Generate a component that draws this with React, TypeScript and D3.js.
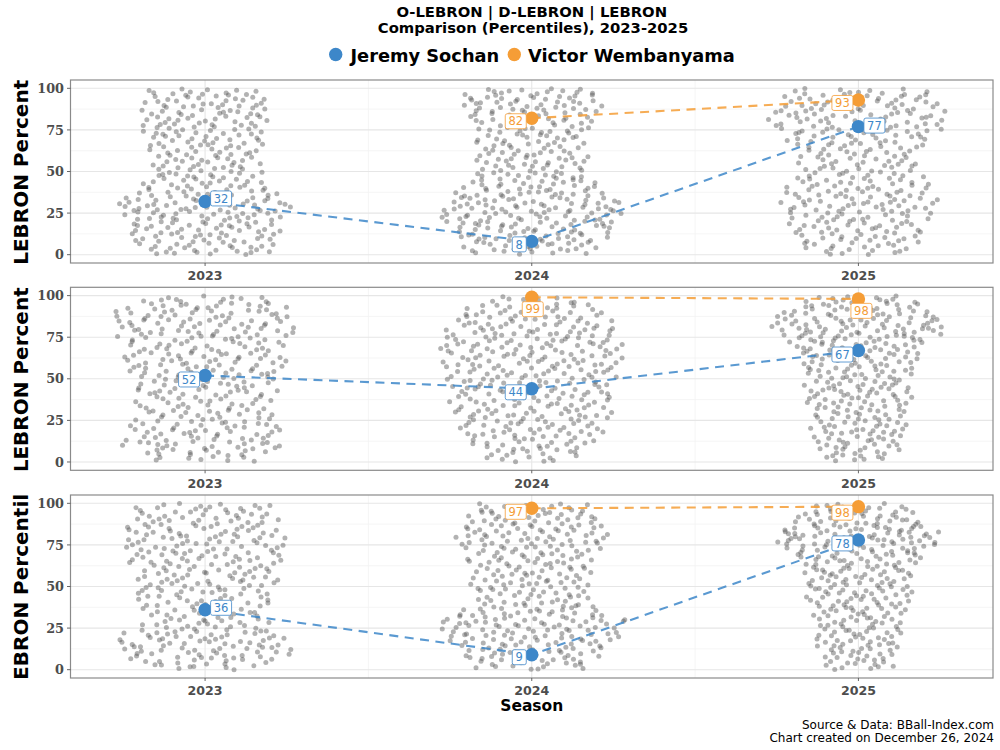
import React, { useMemo } from "react";
import * as d3 from "d3";

// ---------------- DATA ----------------
const seasons = ["2023", "2024", "2025"];
const panelTitles = ["O-LEBRON Percentile", "D-LEBRON Percentile", "LEBRON Percentile"];
const players = ["Jeremy Sochan", "Victor Wembanyama"];
const playerColors = ["#3d87c9", "#f59d36"];

const sochanOLebron = [32, 8, 77];
const sochanDLebron = [52, 44, 67];
const sochanLebron = [36, 9, 78];
const wembyOLebron: (number | null)[] = [null, 82, 93];
const wembyDLebron: (number | null)[] = [null, 99, 98];
const wembyLebron: (number | null)[] = [null, 97, 98];

const yTicks = [0, 25, 50, 75, 100];
const yMinorTicks = [12.5, 37.5, 62.5, 87.5];

// league distribution (gray cloud): players per season and envelope half-width
// (in season units) at percentile levels
const leaguePlayerCounts = [340, 360, 330];
const envelopeLevels = [0, 10, 20, 30, 40, 50, 60, 70, 80, 90, 100];
const oLebronEnv2023 = [0.208, 0.23, 0.25, 0.29, 0.2, 0.184, 0.178, 0.19, 0.205, 0.202, 0.19];
const oLebronEnv2024 = [0.2, 0.24, 0.285, 0.29, 0.224, 0.178, 0.178, 0.178, 0.19, 0.23, 0.2];
const oLebronEnv2025 = [0.147, 0.214, 0.22, 0.254, 0.239, 0.193, 0.193, 0.23, 0.29, 0.27, 0.214];
const dLebronEnv2023 = [0.153, 0.263, 0.245, 0.22, 0.227, 0.236, 0.263, 0.263, 0.29, 0.29, 0.193];
const dLebronEnv2024 = [0.129, 0.19, 0.236, 0.26, 0.26, 0.27, 0.285, 0.3, 0.276, 0.23, 0.122];
const dLebronEnv2025 = [0.086, 0.144, 0.153, 0.153, 0.178, 0.168, 0.178, 0.214, 0.285, 0.245, 0.141];
const lebronEnv2023 = [0.144, 0.282, 0.279, 0.19, 0.208, 0.233, 0.224, 0.26, 0.26, 0.233, 0.22];
const lebronEnv2024 = [0.175, 0.233, 0.276, 0.297, 0.178, 0.193, 0.193, 0.211, 0.245, 0.22, 0.184];
const lebronEnv2025 = [0.107, 0.126, 0.141, 0.144, 0.159, 0.178, 0.175, 0.205, 0.29, 0.2, 0.147];

// ---------------- LAYOUT / STYLE ----------------
type Place = [string, number] | null;
const labelPlacement: Place[][][] = [
  [[["r", -3], ["l", 3], ["r", -1]], [null, ["l", 3], ["l", 3]]],
  [[["l", 4], ["l", 3.5], ["l", 4]], [null, ["b", 1], ["b", 3]]],
  [[["r", -2], ["l", 2.5], ["l", 3.5]], [null, ["l", 3.5], ["l", 6]]],
];

const W = 1000;
const H = 750;
const panelLeft = 70.5;
const panelRight = 993;
const panelTops = [80, 287.3, 495];
const panelH = 183;

function vdc(n: number, b: number) {
  let v = 0;
  let denom = 1;
  while (n > 0) {
    denom *= b;
    v += (n % b) / denom;
    n = Math.floor(n / b);
  }
  return v;
}

export default function App() {
  const panels = [
    { title: panelTitles[0], series: [sochanOLebron, wembyOLebron], env: [oLebronEnv2023, oLebronEnv2024, oLebronEnv2025] },
    { title: panelTitles[1], series: [sochanDLebron, wembyDLebron], env: [dLebronEnv2023, dLebronEnv2024, dLebronEnv2025] },
    { title: panelTitles[2], series: [sochanLebron, wembyLebron], env: [lebronEnv2023, lebronEnv2024, lebronEnv2025] },
  ];

  const x = d3.scaleLinear().domain([-0.412, 2.412]).range([panelLeft, panelRight]);

  // Halton layout inside the envelope
  const clouds = useMemo(
    () =>
      panels.map((p, pi) =>
        p.env.map((env, si) => {
          const hw = d3.scaleLinear().domain(envelopeLevels).range(env).clamp(true);
          const grid = d3.range(0, 100.001, 0.5);
          const cum: number[] = [0];
          for (let k = 1; k < grid.length; k++) cum.push(cum[k - 1] + (hw(grid[k]) + hw(grid[k - 1])) / 2);
          const total = cum[cum.length - 1];
          const inv = d3.scaleLinear().domain(cum.map((c) => c / total)).range(grid).clamp(true);
          const n = leaguePlayerCounts[si];
          const pts: { s: number; v: number }[] = [];
          const off = 20 + pi * 1013 + si * 347;
          for (let i = 0; i < n; i++) {
            const v = inv(vdc(i + off, 3));
            const dx = (2 * vdc(i + off, 2) - 1) * hw(v) * 0.97;
            pts.push({ s: si + dx, v });
          }
          return pts;
        })
      ),
    []
  );

  const sansB = "'DejaVu Sans', sans-serif";

  return (
    <svg width={W} height={H} viewBox={`0 0 ${W} ${H}`} style={{ display: "block", background: "#fff", position: "absolute", left: 0, top: 0 }}>
      <defs>
        {panelTops.map((t, i) => (
          <clipPath id={`ytitle-clip-${i}`} key={`c${i}`}>
            <rect x={0} y={t} width={panelLeft} height={panelH} />
          </clipPath>
        ))}
        {panelTops.map((t, i) => (
          <clipPath id={`panel-clip-${i}`} key={`p${i}`}>
            <rect x={panelLeft} y={t} width={panelRight - panelLeft} height={panelH} />
          </clipPath>
        ))}
      </defs>

      {/* Title */}
      <text x={531.75} y={16.5} textAnchor="middle" fontFamily={sansB} fontWeight="bold" fontSize={14.8} fill="#000">
        O-LEBRON | D-LEBRON | LEBRON
      </text>
      <text x={533} y={33} textAnchor="middle" fontFamily={sansB} fontWeight="bold" fontSize={14.8} fill="#000">
        Comparison (Percentiles), 2023-2025
      </text>

      {/* Legend */}
      <circle cx={335.7} cy={54.5} r={6.7} fill={playerColors[0]} />
      <text x={350.5} y={62} fontFamily={sansB} fontWeight="bold" fontSize={17.8} fill="#000">
        {players[0]}
      </text>
      <circle cx={514.3} cy={54.5} r={6.7} fill={playerColors[1]} />
      <text x={528} y={62} fontFamily={sansB} fontWeight="bold" fontSize={17.8} fill="#000">
        {players[1]}
      </text>

      {panels.map((p, pi) => {
        const top = panelTops[pi];
        const bottom = top + panelH;
        const y = d3.scaleLinear().domain([-5, 105]).range([bottom, top]);
        return (
          <g key={pi}>
            <rect x={panelLeft} y={top} width={panelRight - panelLeft} height={panelH} fill="#fff" />
            <g clipPath={`url(#panel-clip-${pi})`}>
              {yMinorTicks.map((t) => (
                <line key={`ym${t}`} x1={panelLeft} x2={panelRight} y1={y(t)} y2={y(t)} stroke="#f3f3f3" strokeWidth={0.8} />
              ))}
              {[0.5, 1.5].map((t) => (
                <line key={`xm${t}`} x1={x(t)} x2={x(t)} y1={top} y2={bottom} stroke="#f3f3f3" strokeWidth={0.8} />
              ))}
              {yTicks.map((t) => (
                <line key={`y${t}`} x1={panelLeft} x2={panelRight} y1={y(t)} y2={y(t)} stroke="#e6e6e6" strokeWidth={1.1} />
              ))}
              {seasons.map((s, si) => (
                <line key={`x${s}`} x1={x(si)} x2={x(si)} y1={top} y2={bottom} stroke="#e6e6e6" strokeWidth={1.1} />
              ))}

              {clouds[pi].map((pts, si) => (
                <g key={`cl${si}`}>
                  {pts.map((d, k) => (
                    <circle key={k} cx={x(d.s)} cy={y(d.v)} r={2.5} fill="#555" fillOpacity={0.45} />
                  ))}
                </g>
              ))}

              {p.series.map((vals, ci) => {
                const defined = vals.map((v, si) => ({ v, si })).filter((d) => d.v !== null) as { v: number; si: number }[];
                const line = d3
                  .line<{ v: number; si: number }>()
                  .x((d) => x(d.si))
                  .y((d) => y(d.v));
                return (
                  <path key={`l${ci}`} d={line(defined) || ""} fill="none" stroke={playerColors[ci]} strokeOpacity={0.85} strokeWidth={2.1} strokeDasharray="9,6.5" />
                );
              })}

              {p.series.map((vals, ci) =>
                vals.map((v, si) =>
                  v === null ? null : <circle key={`pt${ci}-${si}`} cx={x(si)} cy={y(v)} r={6.7} fill={playerColors[ci]} />
                )
              )}

              {p.series.map((vals, ci) =>
                vals.map((v, si) => {
                  const pl = labelPlacement[pi][ci][si];
                  if (v === null || !pl) return null;
                  const label = String(v);
                  const bw = label.length * 7 + 7;
                  const bh = 15;
                  const cx = x(si);
                  const cy = y(v);
                  let bx = 0;
                  let by = 0;
                  if (pl[0] === "r") {
                    bx = cx + 5.5;
                    by = cy + pl[1] - bh / 2;
                  } else if (pl[0] === "l") {
                    bx = cx - 5.5 - bw;
                    by = cy + pl[1] - bh / 2;
                  } else {
                    bx = cx + pl[1] - bw / 2;
                    by = cy + 4.4;
                  }
                  return (
                    <g key={`lb${ci}-${si}`}>
                      <rect x={bx} y={by} width={bw} height={bh} rx={2} fill="#fff" stroke={playerColors[ci]} strokeWidth={0.8} />
                      <text x={bx + bw / 2} y={by + bh / 2} dy="0.36em" textAnchor="middle" fontFamily={sansB} fontSize={11.5} fill={playerColors[ci]}>
                        {label}
                      </text>
                    </g>
                  );
                })
              )}
            </g>

            <rect x={panelLeft} y={top} width={panelRight - panelLeft} height={panelH} fill="none" stroke="#8a8a8a" strokeWidth={1.2} />

            {/* y axis */}
            {yTicks.map((t) => (
              <g key={`yt${t}`}>
                <line x1={panelLeft - 3.5} x2={panelLeft} y1={y(t)} y2={y(t)} stroke="#555" strokeWidth={0.9} />
                <text x={panelLeft - 6.5} y={y(t)} dy="0.36em" textAnchor="end" fontFamily="'DejaVu Serif', serif" fontWeight="bold" fontSize={12.8} fill="#4d4d4d">
                  {t}
                </text>
              </g>
            ))}
            {/* x axis */}
            {seasons.map((s, si) => (
              <g key={`xt${s}`}>
                <line x1={x(si)} x2={x(si)} y1={bottom} y2={bottom + 3} stroke="#555" strokeWidth={0.9} />
                <text x={x(si)} y={bottom + 17.3} textAnchor="middle" fontFamily={sansB} fontWeight="bold" fontSize={12.6} fill="#4d4d4d">
                  {s}
                </text>
              </g>
            ))}

            <g clipPath={`url(#ytitle-clip-${pi})`}>
              <text
                transform={`translate(28,${top + panelH / 2}) rotate(-90)`}
                textAnchor="middle"
                fontFamily={sansB}
                fontWeight="bold"
                fontSize={20}
                fill="#000"
              >
                {p.title}
              </text>
            </g>
          </g>
        );
      })}

      <text x={531.75} y={711} textAnchor="middle" fontFamily={sansB} fontWeight="bold" fontSize={15.5} fill="#000">
        Season
      </text>

      <text x={994} y={728.5} textAnchor="end" fontFamily={sansB} fontSize={12} fill="#000">
        Source &amp; Data: BBall-Index.com
      </text>
      <text x={994} y={742} textAnchor="end" fontFamily={sansB} fontSize={12} fill="#000">
        Chart created on December 26, 2024
      </text>
    </svg>
  );
}
